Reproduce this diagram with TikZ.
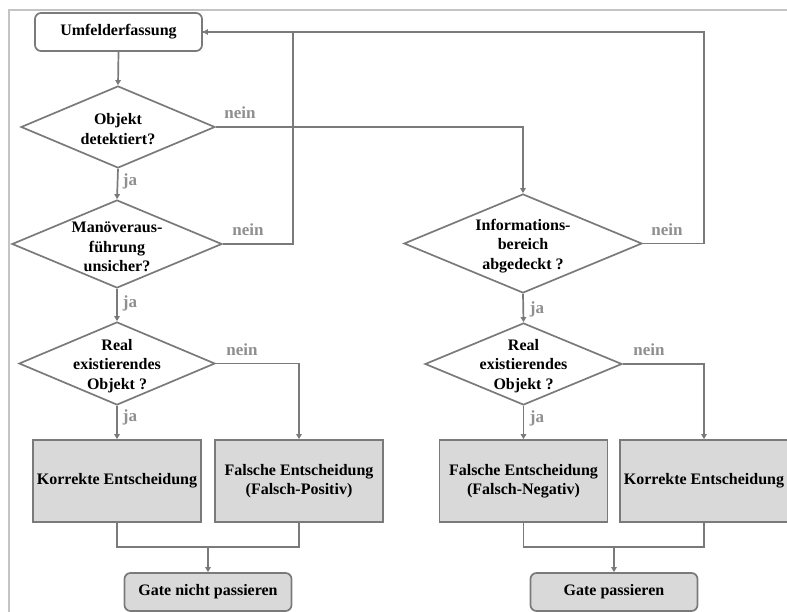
\documentclass[tikz,border=0pt]{standalone}
\usepackage{fontspec}
\setmainfont{Liberation Serif}
\usetikzlibrary{shapes.geometric,arrows.meta}
\definecolor{linegray}{HTML}{7A7A7A}
\definecolor{labelgray}{HTML}{8F8F8F}
\definecolor{boxfill}{HTML}{D9D9D9}
\definecolor{framegray}{HTML}{C4C4C4}
\begin{document}
\begin{tikzpicture}[x=1pt,y=-1pt,
  font=\fontsize{16}{19.5}\selectfont\bfseries,
  flow/.style={draw=linegray,line width=1.7pt},
  arr/.style={flow,-{Triangle[length=5pt,width=5.5pt]}},
  termbox/.style={draw=linegray,line width=1.7pt,rounded corners=6pt,
    minimum width=167pt,minimum height=38pt,inner sep=0pt},
  resultbox/.style={draw=linegray,line width=1.7pt,fill=boxfill,
    minimum width=168pt,minimum height=82pt,inner sep=0pt,align=center},
  decision/.style={draw=linegray,line width=1.7pt,diamond,inner sep=0pt,
    minimum width=#1},
  dtext/.style={align=center,inner sep=0pt},
  answer/.style={text=labelgray,font=\fontsize{17}{20}\selectfont\bfseries,inner sep=0pt}
]
\useasboundingbox (0,0) rectangle (787,612);
% outer frame
\draw[framegray,line width=1.2pt] (9,625) -- (9,10) -- (800,10);

% left column
\node[termbox,fill=white] (umf) at (118.5,32) {Umfelderfassung};
\node[decision=194pt,minimum height=82pt] (d1) at (118,127) {};
\node[dtext] (t1) at (118,129) {Objekt\\detektiert?};
\node[decision=210pt,minimum height=88pt] (d2) at (117,244) {};
\node[dtext] (t2) at (117,247) {Manöveraus-\\führung\\unsicher?};
\node[decision=196pt,minimum height=83pt] (d3) at (117,363.5) {};
\node[dtext] (t3) at (117,366) {Real\\existierendes\\Objekt ?};
\node[resultbox] (kl) at (117,481) {Korrekte Entscheidung};
\node[resultbox] (fp) at (299,481) {Falsche Entscheidung\\(Falsch-Positiv)};
\node[termbox,fill=boxfill] (gnp) at (208,592) {Gate nicht passieren};

% right column
\node[decision=238pt,minimum height=99pt] (di) at (523,243.5) {};
\node[dtext] (ti) at (523,246) {Informations-\\bereich\\abgedeckt ?};
\node[decision=197pt,minimum height=82pt] (d4) at (523.5,364) {};
\node[dtext] (t4) at (523.5,366) {Real\\existierendes\\Objekt ?};
\node[resultbox] (fn) at (523.5,481) {Falsche Entscheidung\\(Falsch-Negativ)};
\node[resultbox] (kr) at (704,481) {Korrekte Entscheidung};
\node[termbox,fill=boxfill] (gp) at (614,592) {Gate passieren};

% junction points
\coordinate (jl) at (208,547);
\coordinate (jr) at (614,547);

% connectors, left column
\draw[arr] (umf.south) -- (d1.north);
\draw[arr] (d1.south) -- (d2.north);
\draw[arr] (d2.south) -- (d3.north);
\draw[arr] (d3.south) -- (kl.north);
\draw[arr] (d3.east) -| (fp.north);
\draw[arr] (d2.east) -- (293,244) |- (umf.east);
\draw[arr] (d1.east) -| (di.north);
\draw[flow] (kl.south) |- (jl) -| (fp.south);
\draw[arr] (jl) -- (gnp.north);

% connectors, right column
\draw[arr] (di.south) -- (d4.north);
\draw[arr] (d4.south) -- (fn.north);
\draw[arr] (d4.east) -| (kr.north);
\draw[flow] (di.east) -- (704,243.5) |- (umf.east);
\draw[flow] (fn.south) |- (jr) -| (kr.south);
\draw[arr] (jr) -- (gp.north);

% branch labels
\node[answer] (n1) at (240,113) {nein};
\node[answer] (j1) at (130,181) {ja};
\node[answer] (n2) at (248,230) {nein};
\node[answer] (j2) at (130,303) {ja};
\node[answer] (n3) at (242,350) {nein};
\node[answer] (j3) at (130,417) {ja};
\node[answer] (n4) at (667,230) {nein};
\node[answer] (j4) at (537,309) {ja};
\node[answer] (n5) at (649,350) {nein};
\node[answer] (j5) at (537,418) {ja};
\end{tikzpicture}
\end{document}
